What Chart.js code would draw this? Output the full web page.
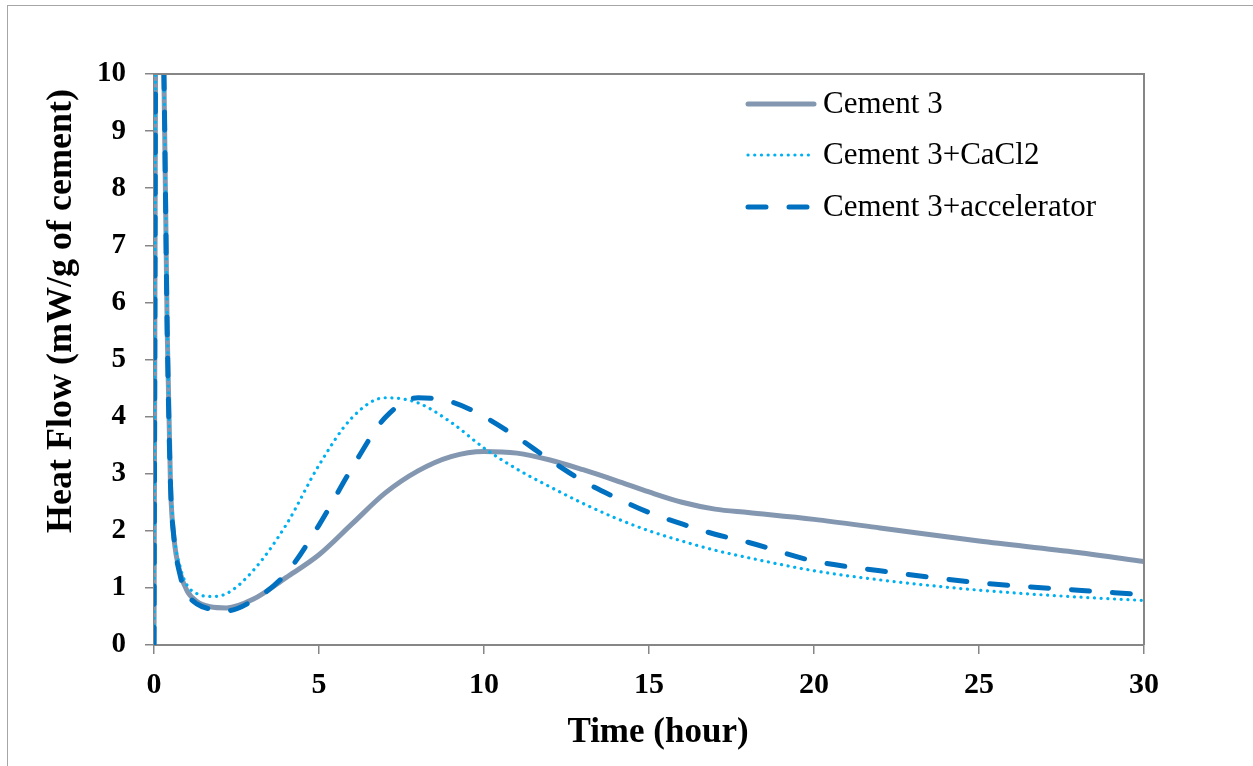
<!DOCTYPE html>
<html>
<head>
<meta charset="utf-8">
<script src="https://cdn.jsdelivr.net/npm/chart.js@4.4.1/dist/chart.umd.min.js"></script>
<style>
  html, body { margin: 0; padding: 0; background: #fff; overflow: hidden; }
  #frame { position: absolute; left: 7px; top: 5px; width: 1400px; height: 900px; border: 1.5px solid #a6a6a6; box-sizing: border-box; }
  #wrap { position: absolute; left: 0; top: 0; width: 1253px; height: 766px; }
</style>
</head>
<body>
<div id="frame"></div>
<div id="wrap"><canvas id="c" width="1253" height="766"></canvas></div>
<script>
// ---- Data ----
const timeHours = [0, 0.08, 0.3, 0.4, 0.5, 0.6, 0.8, 1.0, 1.3, 1.7, 2.2, 3, 4, 5, 6, 7, 8, 9, 10, 11, 12, 13, 14, 15, 16, 17, 18, 20, 22, 25, 28, 30];
const cement3 =      [0, 14, 10, 5.5, 2.8, 1.9, 1.25, 0.95, 0.76, 0.67, 0.65, 0.8, 1.18, 1.58, 2.12, 2.66, 3.05, 3.3, 3.39, 3.36, 3.24, 3.07, 2.88, 2.68, 2.5, 2.38, 2.32, 2.2, 2.05, 1.82, 1.62, 1.46];
const cement3CaCl2 = [0, 14, 10, 5.8, 3.0, 2.0, 1.35, 1.05, 0.9, 0.85, 0.9, 1.3, 2.1, 3.15, 3.98, 4.33, 4.24, 3.9, 3.45, 3.08, 2.77, 2.48, 2.22, 2.0, 1.82, 1.66, 1.53, 1.3, 1.14, 0.96, 0.84, 0.78];
const cement3Accel = [0, 14, 10, 5.5, 2.8, 1.9, 1.2, 0.9, 0.72, 0.63, 0.6, 0.78, 1.25, 2.1, 3.1, 3.98, 4.33, 4.26, 4.0, 3.64, 3.24, 2.87, 2.58, 2.32, 2.12, 1.94, 1.8, 1.47, 1.3, 1.09, 0.96, 0.88];
const seriesNames = ['Cement 3', 'Cement 3+CaCl2', 'Cement 3+accelerator'];
const xTitle = 'Time (hour)';
const yTitle = 'Heat Flow (mW/g of cement)';

const toPts = (vals) => timeHours.map((t, i) => ({ x: t, y: vals[i] }));

const AXIS = '#868686';
const SERIF = "'Liberation Serif', 'Times New Roman', serif";

const datasets = [
  { label: seriesNames[0], data: toPts(cement3), borderColor: '#8497B0', borderWidth: 5, borderDash: [], borderCapStyle: 'round', order: 3 },
  { label: seriesNames[1], data: toPts(cement3CaCl2), borderColor: '#00B0F0', borderWidth: 3.2, borderDash: [0.1, 6.6], borderCapStyle: 'round', order: 2 },
  { label: seriesNames[2], data: toPts(cement3Accel), borderColor: '#0070C0', borderWidth: 5, borderDash: [18, 23], borderCapStyle: 'round', order: 1 }
].map(d => Object.assign(d, { pointRadius: 0, fill: false, cubicInterpolationMode: 'monotone', borderJoinStyle: 'round' }));

const framePlugin = {
  id: 'framePlugin',
  afterDatasetsDraw(chart) {
    const { ctx, chartArea: a } = chart;
    ctx.save();
    ctx.strokeStyle = AXIS;
    ctx.lineWidth = 2;
    ctx.beginPath();
    ctx.moveTo(a.left, a.top);
    ctx.lineTo(a.right, a.top);
    ctx.lineTo(a.right, a.bottom);
    ctx.stroke();
    ctx.restore();
  },
  afterDraw(chart) {
    const ctx = chart.ctx;
    // y-axis title
    ctx.save();
    ctx.translate(62, 311);
    ctx.rotate(-Math.PI / 2);
    ctx.font = "bold 36px " + SERIF;
    ctx.fillStyle = '#000';
    ctx.textAlign = 'center';
    ctx.textBaseline = 'middle';
    ctx.fillText(yTitle, 0, 0);
    ctx.restore();
    // x-axis title
    ctx.save();
    ctx.font = "bold 35px " + SERIF;
    ctx.fillStyle = '#000';
    ctx.textAlign = 'center';
    ctx.textBaseline = 'middle';
    ctx.fillText(xTitle, 658, 733);
    ctx.restore();
    // legend
    const rows = [104, 155, 207];
    chart.data.datasets.forEach((ds, i) => {
      const y = rows[i];
      ctx.save();
      ctx.strokeStyle = ds.borderColor;
      ctx.lineWidth = ds.borderWidth;
      ctx.lineCap = 'round';
      ctx.setLineDash(ds.borderDash);
      ctx.beginPath();
      ctx.moveTo(748, y); ctx.lineTo(814, y);
      ctx.stroke();
      ctx.setLineDash([]);
      ctx.fillStyle = '#000';
      ctx.font = "31px " + SERIF;
      ctx.textAlign = 'left';
      ctx.textBaseline = 'middle';
      ctx.fillText(ds.label, 823, y + 1);
      ctx.restore();
    });
  }
};

new Chart(document.getElementById('c'), {
  type: 'line',
  data: { datasets },
  options: {
    responsive: false,
    animation: false,
    layout: { padding: { top: 74, right: 109, left: 0, bottom: 0 } },
    plugins: { legend: { display: false }, tooltip: { enabled: false } },
    scales: {
      x: {
        type: 'linear', min: 0, max: 30,
        afterFit: (s) => { s.height = 121; },
        grid: { drawOnChartArea: false, color: AXIS, lineWidth: 1.5, tickLength: 9 },
        border: { color: AXIS, width: 2 },
        ticks: { stepSize: 5, color: '#000', padding: 13, font: { family: SERIF, size: 30, weight: 'bold' } },
        title: { display: false }
      },
      y: {
        type: 'linear', min: 0, max: 10,
        afterFit: (s) => { s.width = 154; },
        grid: { drawOnChartArea: false, color: AXIS, lineWidth: 1.5, tickLength: 9 },
        border: { color: AXIS, width: 2 },
        ticks: { stepSize: 1, color: '#000', padding: 19, font: { family: SERIF, size: 29, weight: 'bold' } },
        title: { display: false }
      }
    }
  },
  plugins: [framePlugin]
});
</script>
</body>
</html>
